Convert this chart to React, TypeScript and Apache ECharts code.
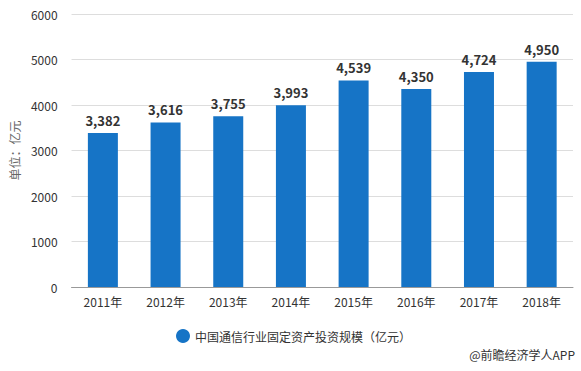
import React, { useEffect, useRef } from "react";
import * as echarts from "echarts";

const categories = ["2011年", "2012年", "2013年", "2014年", "2015年", "2016年", "2017年", "2018年"];
const values = [3382, 3616, 3755, 3993, 4539, 4350, 4724, 4950];
const seriesName = "中国通信行业固定资产投资规模（亿元）";
const yAxisName = "单位：亿元";
const sourceText = "@前瞻经济学人APP";

export default function App() {
  const ref = useRef<HTMLDivElement>(null);
  useEffect(() => {
    document.body.style.margin = "0";
    if (!ref.current) return;
    const chart = echarts.init(ref.current, undefined, { renderer: "svg" });
    chart.setOption({
      animation: false,
      textStyle: { fontFamily: "'Noto Sans CJK SC', 'Noto Sans', sans-serif" },
      grid: { left: 70, right: 8, top: 14, bottom: 84 },
      legend: {
        data: [{ name: seriesName, icon: "circle" }],
        left: 171,
        top: 324,
        itemWidth: 14,
        itemHeight: 14,
        itemGap: 6,
        textStyle: { fontSize: 12, color: "#333" },
      },
      graphic: [
        {
          type: "text",
          right: 6,
          top: 348,
          style: { text: sourceText, fontSize: 12, fill: "#333", fontFamily: "'Noto Sans CJK SC', sans-serif" },
        },
      ],
      xAxis: {
        type: "category",
        data: categories,
        axisLine: { lineStyle: { color: "#999" } },
        axisTick: { alignWithLabel: true, lineStyle: { color: "#999" } },
        axisLabel: { color: "#333", fontSize: 12, margin: 8 },
      },
      yAxis: {
        type: "value",
        min: 0,
        max: 6000,
        interval: 1000,
        name: yAxisName,
        nameLocation: "middle",
        nameGap: 50,
        nameTextStyle: { color: "#666", fontSize: 12 },
        axisLine: { show: false },
        axisTick: { show: false },
        axisLabel: { color: "#333", fontSize: 12, margin: 14, formatter: (v: number) => String(v) },
        splitLine: { lineStyle: { color: "#ddd" } },
      },
      series: [
        {
          name: seriesName,
          type: "bar",
          data: values,
          barWidth: 30,
          itemStyle: { color: "#1674C6" },
          label: {
            show: true,
            position: "top",
            distance: 6,
            color: "#333",
            fontWeight: "bold",
            fontSize: 13,
            formatter: (p: any) => Number(p.value).toLocaleString("en-US"),
          },
        },
      ],
    });
    return () => chart.dispose();
  }, []);
  return <div ref={ref} style={{ width: 581, height: 371 }} />;
}
